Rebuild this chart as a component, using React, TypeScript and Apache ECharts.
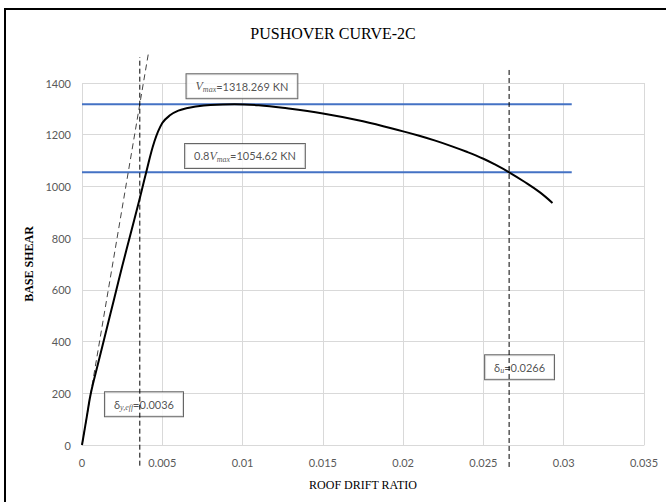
import React, { useEffect, useRef } from "react";
import * as echarts from "echarts";

const driftRatio = [0, 0.0003, 0.00055, 0.001, 0.0015, 0.002, 0.0025, 0.003, 0.0035, 0.004, 0.0045, 0.005, 0.0055, 0.006, 0.0065, 0.007, 0.008, 0.0095, 0.011, 0.0125, 0.015, 0.0175, 0.02, 0.021, 0.022, 0.023, 0.024, 0.025, 0.0258, 0.0266, 0.0275, 0.0285, 0.0293];
const baseShear = [0, 110, 200, 315, 440, 565, 690, 810, 930, 1055, 1172, 1245, 1276, 1293, 1302, 1308, 1315, 1318.269, 1314, 1304, 1282, 1252, 1213, 1196, 1177, 1156, 1133, 1107, 1082, 1054.62, 1020, 978, 936];

const vMax = 1318.269;
const vMax08 = 1054.62;
const deltaYEff = 0.0036;
const deltaU = 0.0266;
const secantEnd = [0.00415, 1520];
const blueLineEnd = 0.0305;
const yieldLineRange = [-80, 1500];
const ultLineRange = [-85, 1457];

const xTicks = { min: 0, max: 0.035, interval: 0.005 };
const yTicks = { min: 0, max: 1400, interval: 200 };

const labelSpots = {
  vmax: [0.00996, 1387],
  vmax08: [0.01015, 1118],
  dy: [0.00386, 158],
  du: [0.02725, 301],
};

export default function App() {
  const ref = useRef<HTMLDivElement>(null);
  useEffect(() => {
    document.body.style.margin = "0";
    const chart = echarts.init(ref.current!, undefined, { renderer: "svg" });
    const tickFont = "Lato, 'Liberation Sans', sans-serif";
    const boxLabel = (formatter: string, rich: any) => ({
      show: true,
      position: "inside",
      formatter,
      backgroundColor: "#fff",
      borderColor: "#404040",
      borderWidth: 1,
      padding: [5, 9, 5, 9],
      color: "#262626",
      fontFamily: tickFont,
      fontSize: 11,
      rich,
    });
    const baseRich = {
      n: { fontFamily: tickFont, fontSize: 11, color: "#262626", lineHeight: 14 },
      i: { fontFamily: "'Liberation Serif', serif", fontStyle: "italic", fontSize: 12, color: "#262626", lineHeight: 14 },
      s: { fontFamily: "'Liberation Serif', serif", fontStyle: "italic", fontSize: 8, color: "#262626", lineHeight: 14, padding: [7, 0, 0, 0] },
    };
    chart.setOption({
      animation: false,
      backgroundColor: "#fff",
      title: {
        text: "PUSHOVER CURVE-2C",
        left: "center",
        top: 20,
        textStyle: { fontFamily: "'Liberation Serif', serif", fontWeight: "normal", fontSize: 16, color: "#000" },
      },
      grid: { left: 82, right: 22, top: 83, bottom: 57 },
      xAxis: {
        type: "value",
        min: xTicks.min,
        max: xTicks.max,
        interval: xTicks.interval,
        name: "ROOF DRIFT RATIO",
        nameLocation: "middle",
        nameGap: 34,
        nameTextStyle: { fontFamily: "'Liberation Serif', serif", fontSize: 12, color: "#000" },
        axisLine: { show: true, lineStyle: { color: "#d9d9d9" } },
        axisTick: { show: false },
        splitLine: { show: true, lineStyle: { color: "#d9d9d9" } },
        axisLabel: {
          margin: 12,
          color: "#595959",
          fontFamily: tickFont,
          fontSize: 11,
          formatter: (v: number) => String(+v.toFixed(3)),
        },
      },
      yAxis: {
        type: "value",
        min: yTicks.min,
        max: yTicks.max,
        interval: yTicks.interval,
        name: "BASE SHEAR",
        nameLocation: "middle",
        nameGap: 39,
        nameTextStyle: { fontFamily: "'Liberation Serif', serif", fontSize: 12, fontWeight: "bold", color: "#000" },
        axisLine: { show: false },
        axisTick: { show: false },
        splitLine: { show: true, lineStyle: { color: "#d9d9d9" } },
        axisLabel: {
          margin: 11,
          color: "#595959",
          fontFamily: tickFont,
          fontSize: 11,
          formatter: (v: number) => String(v),
        },
      },
      graphic: [
        {
          type: "rect",
          shape: { x: 5, y: 9, width: 700, height: 520 },
          style: { fill: "none", stroke: "#000", lineWidth: 2 },
          silent: true,
        },
      ],
      series: [
        {
          type: "line",
          name: "limits-h1",
          data: [[0, vMax], [blueLineEnd, vMax]],
          symbol: "none",
          lineStyle: { color: "#4472C4", width: 2 },
          z: 2,
        },
        {
          type: "line",
          name: "limits-h2",
          data: [[0, vMax08], [blueLineEnd, vMax08]],
          symbol: "none",
          lineStyle: { color: "#4472C4", width: 2 },
          z: 2,
        },
        {
          type: "scatter",
          name: "labels",
          symbolSize: 0,
          z: 3,
          data: [
            { value: labelSpots.vmax, label: boxLabel("{i|V}{s|max}{n|=1318.269 KN}", baseRich) },
            { value: labelSpots.vmax08, label: boxLabel("{n|0.8}{i|V}{s|max}{n|=1054.62 KN}", baseRich) },
            { value: labelSpots.dy, label: boxLabel("{n|δ}{s|y,eff}{n|=0.0036}", baseRich) },
            { value: labelSpots.du, label: boxLabel("{n|δ}{s|u}{n|=0.0266}", baseRich) },
          ],
        },
        {
          type: "line",
          name: "secant",
          data: [[0, 0], secantEnd],
          clip: false,
          symbol: "none",
          lineStyle: { color: "#444", width: 1, type: [6, 4] },
          z: 4,
        },
        {
          type: "line",
          name: "dy",
          data: [[deltaYEff, yieldLineRange[0]], [deltaYEff, yieldLineRange[1]]],
          clip: false,
          symbol: "none",
          lineStyle: { color: "#000", width: 1, type: [5, 3] },
          z: 5,
        },
        {
          type: "line",
          name: "du",
          data: [[deltaU, ultLineRange[0]], [deltaU, ultLineRange[1]]],
          clip: false,
          symbol: "none",
          lineStyle: { color: "#000", width: 1, type: [5, 3] },
          z: 5,
        },
        {
          type: "line",
          name: "pushover",
          data: driftRatio.map((x, i) => [x, baseShear[i]]),
          smooth: 0.4,
          symbol: "none",
          lineStyle: { color: "#000", width: 2 },
          z: 6,
        },
      ],
    });
    return () => chart.dispose();
  }, []);
  return <div ref={ref} style={{ position: "fixed", left: 0, top: 0, width: 666, height: 502 }} />;
}
